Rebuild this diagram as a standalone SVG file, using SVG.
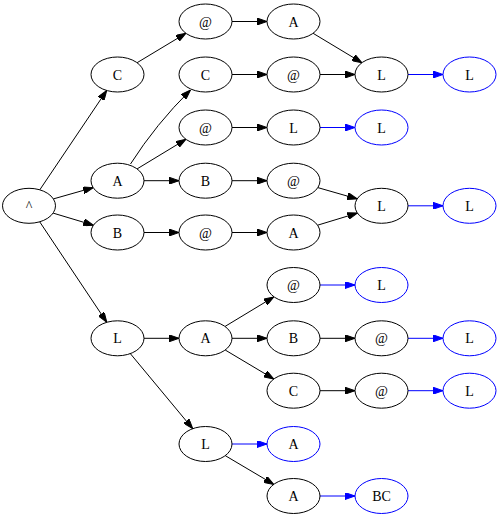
<svg xmlns="http://www.w3.org/2000/svg" width="500" height="518" viewBox="0 0 500 518">
<style>
.n ellipse{fill:none;stroke:#000;stroke-width:1}
.n.b ellipse{stroke:#0000ff}
.n text{font-family:"Liberation Serif","Times New Roman",serif;font-size:14px;text-anchor:middle;fill:#000}
.e path{fill:none;stroke:#000;stroke-width:1;marker-end:url(#ah)}
.e path.b{stroke:#0000ff;marker-end:url(#ahb)}
</style>
<defs>
<marker id="ah" markerUnits="userSpaceOnUse" markerWidth="10" markerHeight="7" refX="10" refY="3.5" orient="auto"><path d="M0,0L10,3.5L0,7z" fill="#000" stroke="#000" stroke-width="1"/></marker>
<marker id="ahb" markerUnits="userSpaceOnUse" markerWidth="10" markerHeight="7" refX="10" refY="3.5" orient="auto"><path d="M0,0L10,3.5L0,7z" fill="#0000ff" stroke="#0000ff" stroke-width="1"/></marker>
</defs>
<rect width="500" height="518" fill="#fff"/>
<g id="edges" class="e">
<path d="M39.8,189.8L106.7,90.5"/>
<path d="M53.4,198.9L93.2,187.6"/>
<path d="M53.1,213.1L93.4,225.2"/>
<path d="M39.7,221.8L106.8,322.3"/>
<path d="M137.1,62.7L185.9,33.3"/>
<path d="M130.5,164Q156,124 190.5,90"/>
<path d="M137.1,168.9L185.9,139.3"/>
<path d="M144,180.7L179,180.7"/>
<path d="M144,232.5L179,232.5"/>
<path d="M144,338.3L179,338.3"/>
<path d="M130.3,353.6L192.7,428.7"/>
<path d="M232,21.5L267,21.5"/>
<path d="M232,74.5L267,74.5"/>
<path d="M232,127.5L267,127.5"/>
<path d="M232,180.7L267,180.7"/>
<path d="M232,232.5L267,232.5"/>
<path d="M225.1,326.4L273.9,296.9"/>
<path d="M232,338.3L267,338.3"/>
<path d="M225.2,350L273.8,379"/>
<path class="b" d="M232,444L267,444"/>
<path d="M225.2,455.6L273.8,484.4"/>
<path d="M313.1,33.3L361.9,62.7"/>
<path d="M320,74.5L355,74.5"/>
<path class="b" d="M320,127.5L355,127.5"/>
<path d="M317.8,187.6L357.2,198.9"/>
<path d="M317.6,225.2L357.4,213.1"/>
<path class="b" d="M320,285L355,285"/>
<path d="M320,338.3L355,338.3"/>
<path d="M320,390.7L355,390.7"/>
<path class="b" d="M320,496L355,496"/>
<path class="b" d="M408,74.5L443,74.5"/>
<path class="b" d="M408,205.8L443,205.8"/>
<path class="b" d="M408,338.3L443,338.3"/>
<path class="b" d="M408,390.7L443,390.7"/>
</g>
<g id="n_root" class="n"><ellipse cx="29" cy="205.8" rx="26.5" ry="17.5"/><text x="29" y="210.8">^</text></g>
<g id="n_C1" class="n"><ellipse cx="117.5" cy="74.5" rx="26.5" ry="17.5"/><text x="117.5" y="79.5">C</text></g>
<g id="n_A1" class="n"><ellipse cx="117.5" cy="180.7" rx="26.5" ry="17.5"/><text x="117.5" y="185.7">A</text></g>
<g id="n_B1" class="n"><ellipse cx="117.5" cy="232.5" rx="26.5" ry="17.5"/><text x="117.5" y="237.5">B</text></g>
<g id="n_L1" class="n"><ellipse cx="117.5" cy="338.3" rx="26.5" ry="17.5"/><text x="117.5" y="343.3">L</text></g>
<g id="n_C1at" class="n"><ellipse cx="205.5" cy="21.5" rx="26.5" ry="17.5"/><text x="205.5" y="26.5">@</text></g>
<g id="n_A1C" class="n"><ellipse cx="205.5" cy="74.5" rx="26.5" ry="17.5"/><text x="205.5" y="79.5">C</text></g>
<g id="n_A1at" class="n"><ellipse cx="205.5" cy="127.5" rx="26.5" ry="17.5"/><text x="205.5" y="132.5">@</text></g>
<g id="n_A1B" class="n"><ellipse cx="205.5" cy="180.7" rx="26.5" ry="17.5"/><text x="205.5" y="185.7">B</text></g>
<g id="n_B1at" class="n"><ellipse cx="205.5" cy="232.5" rx="26.5" ry="17.5"/><text x="205.5" y="237.5">@</text></g>
<g id="n_L1A" class="n"><ellipse cx="205.5" cy="338.3" rx="26.5" ry="17.5"/><text x="205.5" y="343.3">A</text></g>
<g id="n_L1L" class="n"><ellipse cx="205.5" cy="444" rx="26.5" ry="17.5"/><text x="205.5" y="449">L</text></g>
<g id="n_c3A1" class="n"><ellipse cx="293.5" cy="21.5" rx="26.5" ry="17.5"/><text x="293.5" y="26.5">A</text></g>
<g id="n_c3at1" class="n"><ellipse cx="293.5" cy="74.5" rx="26.5" ry="17.5"/><text x="293.5" y="79.5">@</text></g>
<g id="n_c3L" class="n"><ellipse cx="293.5" cy="127.5" rx="26.5" ry="17.5"/><text x="293.5" y="132.5">L</text></g>
<g id="n_c3at2" class="n"><ellipse cx="293.5" cy="180.7" rx="26.5" ry="17.5"/><text x="293.5" y="185.7">@</text></g>
<g id="n_c3A2" class="n"><ellipse cx="293.5" cy="232.5" rx="26.5" ry="17.5"/><text x="293.5" y="237.5">A</text></g>
<g id="n_c3at3" class="n"><ellipse cx="293.5" cy="285" rx="26.5" ry="17.5"/><text x="293.5" y="290">@</text></g>
<g id="n_c3B" class="n"><ellipse cx="293.5" cy="338.3" rx="26.5" ry="17.5"/><text x="293.5" y="343.3">B</text></g>
<g id="n_c3C" class="n"><ellipse cx="293.5" cy="390.7" rx="26.5" ry="17.5"/><text x="293.5" y="395.7">C</text></g>
<g id="n_c3Ab" class="n b"><ellipse cx="293.5" cy="444" rx="26.5" ry="17.5"/><text x="293.5" y="449">A</text></g>
<g id="n_c3A3" class="n"><ellipse cx="293.5" cy="496" rx="26.5" ry="17.5"/><text x="293.5" y="501">A</text></g>
<g id="n_c4L1" class="n"><ellipse cx="381.5" cy="74.5" rx="26.5" ry="17.5"/><text x="381.5" y="79.5">L</text></g>
<g id="n_c4Lb1" class="n b"><ellipse cx="381.5" cy="127.5" rx="26.5" ry="17.5"/><text x="381.5" y="132.5">L</text></g>
<g id="n_c4L2" class="n"><ellipse cx="381.5" cy="205.8" rx="26.5" ry="17.5"/><text x="381.5" y="210.8">L</text></g>
<g id="n_c4Lb2" class="n b"><ellipse cx="381.5" cy="285" rx="26.5" ry="17.5"/><text x="381.5" y="290">L</text></g>
<g id="n_c4at1" class="n"><ellipse cx="381.5" cy="338.3" rx="26.5" ry="17.5"/><text x="381.5" y="343.3">@</text></g>
<g id="n_c4at2" class="n"><ellipse cx="381.5" cy="390.7" rx="26.5" ry="17.5"/><text x="381.5" y="395.7">@</text></g>
<g id="n_c4BC" class="n b"><ellipse cx="381.5" cy="496" rx="26.5" ry="17.5"/><text x="381.5" y="501">BC</text></g>
<g id="n_c5L1" class="n b"><ellipse cx="469.5" cy="74.5" rx="26.5" ry="17.5"/><text x="469.5" y="79.5">L</text></g>
<g id="n_c5L2" class="n b"><ellipse cx="469.5" cy="205.8" rx="26.5" ry="17.5"/><text x="469.5" y="210.8">L</text></g>
<g id="n_c5L3" class="n b"><ellipse cx="469.5" cy="338.3" rx="26.5" ry="17.5"/><text x="469.5" y="343.3">L</text></g>
<g id="n_c5L4" class="n b"><ellipse cx="469.5" cy="390.7" rx="26.5" ry="17.5"/><text x="469.5" y="395.7">L</text></g>
</svg>
